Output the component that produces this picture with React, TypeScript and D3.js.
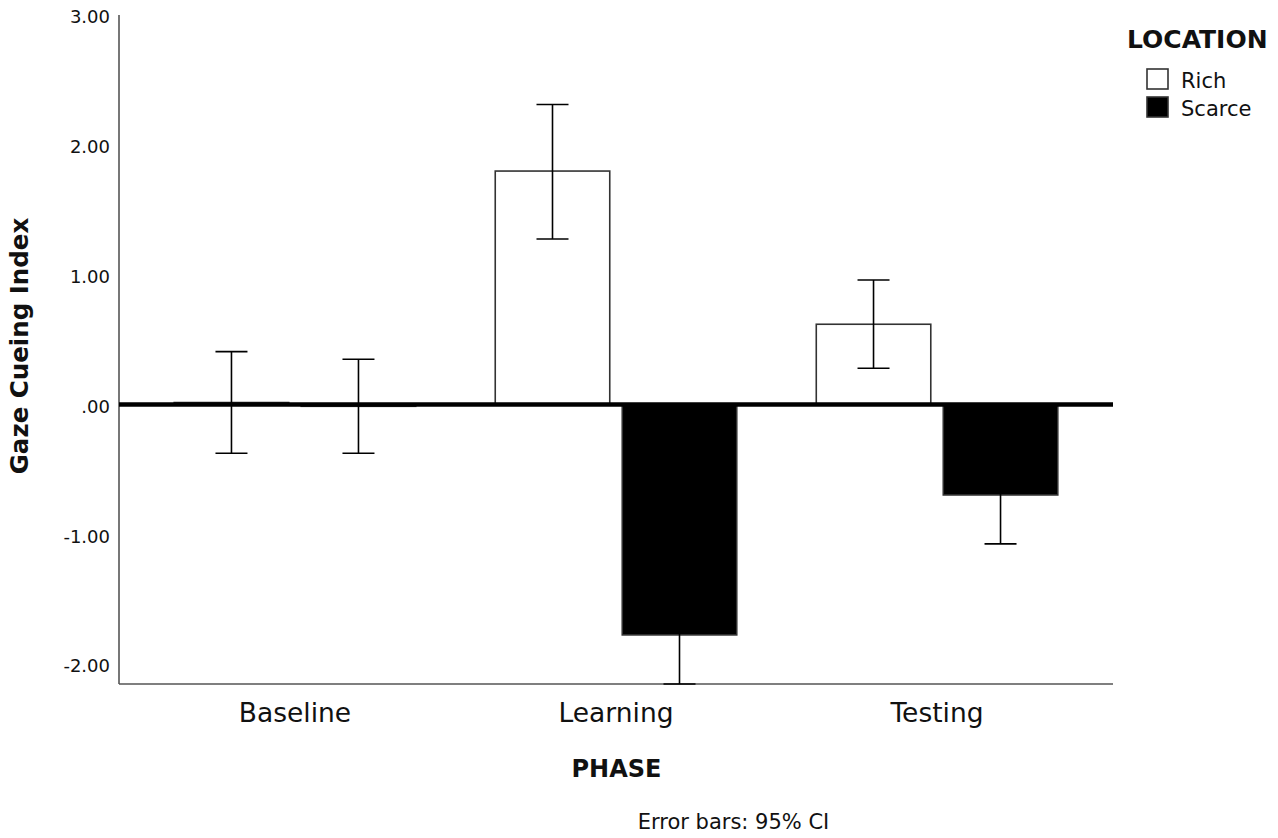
import React from "react";
import * as d3 from "d3";

const phases = ["Baseline", "Learning", "Testing"];
const locations = ["Rich", "Scarce"];
const richMeans = [0.015, 1.798, 0.618];
const richLower = [-0.376, 1.275, 0.279];
const richUpper = [0.407, 2.311, 0.959];
const scarceMeans = [-0.014, -1.775, -0.697];
const scarceLower = [-0.376, -2.153, -1.074];
const scarceUpper = [0.348, -1.397, -0.32];
const yTicks = [-2, -1, 0, 1, 2, 3];

const W = 1278;
const H = 838;
const FONT = "'DejaVu Sans', Verdana, sans-serif";

const fmt = (v: number) => {
  const s = Math.abs(v).toFixed(2).replace(/^0\./, ".");
  return (v < 0 ? "-" : "") + s;
};

export default function App() {
  const left = 119, right = 1113, top = 15, bottom = 684;
  const y = d3.scaleLinear().domain([-2.153, 3]).range([bottom, top]);
  const x0 = d3.scaleBand<string>().domain(phases).range([left, right]).paddingInner(0.2477).paddingOuter(0.172);
  const x1 = d3.scaleBand<string>().domain(locations).range([0, x0.bandwidth()]).paddingInner(0.0984);

  const series = [
    { loc: "Rich", means: richMeans, lo: richLower, hi: richUpper, fill: "#ffffff" },
    { loc: "Scarce", means: scarceMeans, lo: scarceLower, hi: scarceUpper, fill: "#000000" },
  ];
  const capW = 32;

  return (
    <svg width={W} height={H} style={{ position: "absolute", left: 0, top: 0, background: "#fff" }} fontFamily={FONT}>
      {/* y tick labels */}
      {yTicks.map((t) => (
        <text key={t} x={110} y={y(t) + 2} dy="0.35em" textAnchor="end" fontSize={18} fill="#111">
          {fmt(t)}
        </text>
      ))}
      {/* bars */}
      {series.map((s) =>
        phases.map((p, i) => {
          const bx = (x0(p) ?? 0) + (x1(s.loc) ?? 0);
          const y0 = y(0);
          const yv = y(s.means[i]);
          return (
            <rect
              key={s.loc + p}
              x={bx}
              y={Math.min(y0, yv)}
              width={x1.bandwidth()}
              height={Math.abs(y0 - yv)}
              fill={s.fill}
              stroke="#333"
              strokeWidth={1.6}
            />
          );
        })
      )}
      {/* axes */}
      <line x1={left} x2={left} y1={top} y2={bottom} stroke="#555" strokeWidth={1.6} />
      <line x1={left} x2={right} y1={bottom} y2={bottom} stroke="#555" strokeWidth={1.6} />
      {/* zero line */}
      <line x1={left} x2={right} y1={y(0)} y2={y(0)} stroke="#000" strokeWidth={4.5} />
      {/* error bars */}
      {series.map((s) =>
        phases.map((p, i) => {
          const cx = (x0(p) ?? 0) + (x1(s.loc) ?? 0) + x1.bandwidth() / 2;
          return (
            <g key={"e" + s.loc + p} stroke="#000" strokeWidth={1.6}>
              <line x1={cx} x2={cx} y1={y(s.lo[i])} y2={y(s.hi[i])} />
              <line x1={cx - capW / 2} x2={cx + capW / 2} y1={y(s.lo[i])} y2={y(s.lo[i])} />
              <line x1={cx - capW / 2} x2={cx + capW / 2} y1={y(s.hi[i])} y2={y(s.hi[i])} />
            </g>
          );
        })
      )}
      {/* x labels */}
      {phases.map((p) => (
        <text key={p} x={(x0(p) ?? 0) + x0.bandwidth() / 2} y={722} textAnchor="middle" fontSize={26.5} fill="#111">
          {p}
        </text>
      ))}
      {/* axis titles */}
      <text transform={`translate(28,346) rotate(-90)`} textAnchor="middle" fontSize={24.5} fontWeight="bold" fill="#111">
        Gaze Cueing Index
      </text>
      <text x={616.5} y={777} textAnchor="middle" fontSize={24} fontWeight="bold" fill="#111">
        PHASE
      </text>
      <text x={733.5} y={829} textAnchor="middle" fontSize={21} fill="#111">
        Error bars: 95% CI
      </text>
      {/* legend */}
      <text x={1127} y={48} fontSize={25} fontWeight="bold" fill="#111">
        LOCATION
      </text>
      {series.map((s, i) => (
        <g key={"lg" + s.loc}>
          <rect x={1147} y={69 + i * 28} width={21} height={20} fill={s.fill} stroke="#333" strokeWidth={1.6} />
          <text x={1181} y={88 + i * 28} fontSize={21} fill="#111">
            {s.loc}
          </text>
        </g>
      ))}
    </svg>
  );
}
